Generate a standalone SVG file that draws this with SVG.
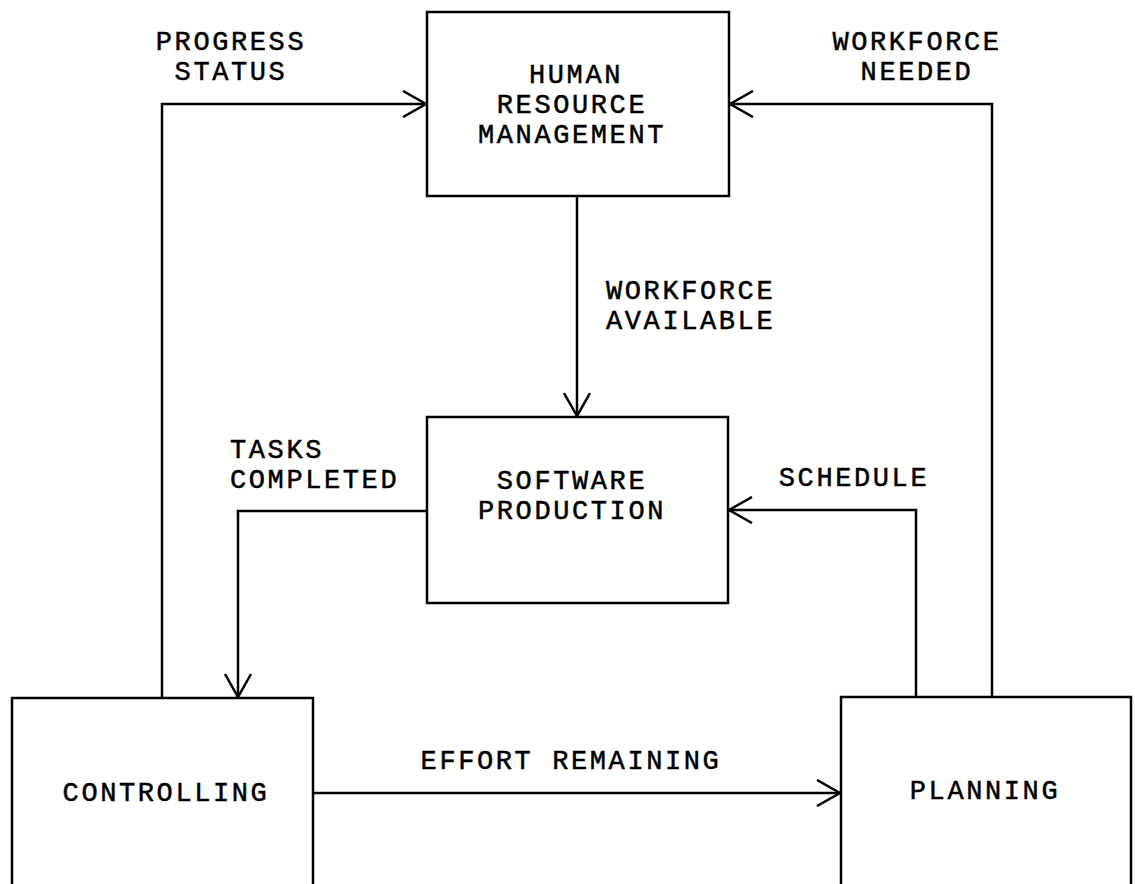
<svg xmlns="http://www.w3.org/2000/svg" width="1135" height="884" viewBox="0 0 1135 884">
<defs>
<style>
.box{fill:#fff;stroke:#000;stroke-width:2.5}
.ln{fill:none;stroke:#000;stroke-width:2.5;marker-end:url(#arr)}
text{font-family:"Liberation Mono","Courier New",monospace;font-size:27px;letter-spacing:2.6px;fill:#000;stroke:#000;stroke-width:0.5}
.c{text-anchor:middle}
</style>
<marker id="arr" viewBox="-24 -14 26 28" refX="0" refY="0" markerWidth="26" markerHeight="28" markerUnits="userSpaceOnUse" orient="auto">
<path d="M-23,-13 L0,0 L-23,13" fill="none" stroke="#000" stroke-width="2.5"/>
</marker>
</defs>
<rect width="1135" height="884" fill="#fff"/>
<g id="connectors">
<path class="ln" d="M162,698 V104 H426"/>
<path class="ln" d="M992,697 V104 H730"/>
<path class="ln" d="M577,196 V416"/>
<path class="ln" d="M427,511 H238 V697"/>
<path class="ln" d="M916,697 V510 H729"/>
<path class="ln" d="M313,793 H840"/>
<text class="c" x="231" y="50">PROGRESS</text>
<text class="c" x="231" y="80">STATUS</text>
<text class="c" x="917" y="50">WORKFORCE</text>
<text class="c" x="917" y="80">NEEDED</text>
<text x="606" y="299">WORKFORCE</text>
<text x="606" y="329">AVAILABLE</text>
<text x="230" y="458">TASKS</text>
<text x="230" y="488">COMPLETED</text>
<text class="c" x="854" y="486">SCHEDULE</text>
<text class="c" x="571" y="769">EFFORT REMAINING</text>
</g>
<g id="hrm">
<rect class="box" x="427" y="12" width="302" height="184"/>
<text class="c" x="576" y="83">HUMAN</text>
<text class="c" x="572" y="113">RESOURCE</text>
<text class="c" x="572" y="143">MANAGEMENT</text>
</g>
<g id="software">
<rect class="box" x="427" y="417" width="301" height="186"/>
<text class="c" x="572" y="489">SOFTWARE</text>
<text class="c" x="572" y="519">PRODUCTION</text>
</g>
<g id="controlling">
<rect class="box" x="12" y="698" width="301" height="200"/>
<text class="c" x="166" y="801">CONTROLLING</text>
</g>
<g id="planning">
<rect class="box" x="841" y="697" width="290" height="200"/>
<text class="c" x="985" y="799">PLANNING</text>
</g>
</svg>
